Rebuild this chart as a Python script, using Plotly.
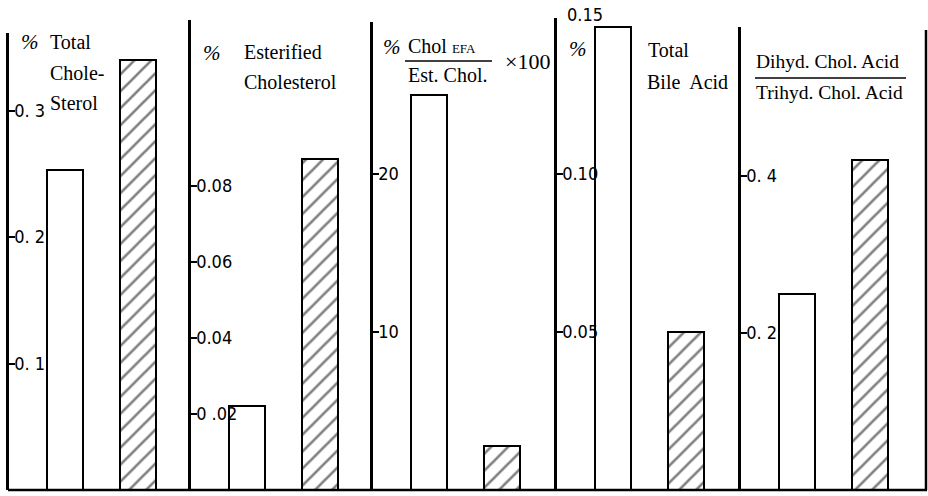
import plotly.graph_objects as go

# ---------------- data ----------------
groups = ["Control", "EFA-deficient"]
total_cholesterol = [0.253, 0.340]
esterified_cholesterol = [0.022, 0.087]
chol_efa_ratio = [25.0, 2.8]
total_bile_acid = [0.1465, 0.050]
dihyd_trihyd_ratio = [0.25, 0.42]

tick_vals_1 = [0.1, 0.2, 0.3]
tick_text_1 = ["0. 1", "0. 2", "0. 3"]
tick_vals_2 = [0.02, 0.04, 0.06, 0.08]
tick_text_2 = ["0 .02", "0.04", "0.06", "0.08"]
tick_vals_3 = [10, 20]
tick_text_3 = ["10", "20"]
tick_vals_4 = [0.05, 0.10]
tick_text_4 = ["0.05", "0.10"]
top_label_4 = "0.15"
tick_vals_5 = [0.2, 0.4]
tick_text_5 = ["0. 2", "0. 4"]

panels = [
    (total_cholesterol, tick_vals_1, tick_text_1, 0.3613),
    (esterified_cholesterol, tick_vals_2, tick_text_2, 0.1237),
    (chol_efa_ratio, tick_vals_3, tick_text_3, 29.62),
    (total_bile_acid, tick_vals_4, tick_text_4, 0.1494),
    (dihyd_trihyd_ratio, tick_vals_5, tick_text_5, 0.590),
]

# ---------------- layout geometry ----------------
W, H = 928, 496
PLOT_H = 490  # plot area height (bottom margin 6)
axis_x = [9, 191, 373, 557, 741]
axis_top = [33, 20, 22, 18, 27]
panel_w = 182

SERIF = "Liberation Serif, Times New Roman, serif"
TICKFAMILY = "Liberation Sans Narrow, DejaVu Sans Condensed, Liberation Sans, sans-serif"
TICKFONT = dict(family=TICKFAMILY, size=18, color="black")


def px(x):
    return x / W


def py(y):
    return (PLOT_H - y) / PLOT_H


fig = go.Figure()
layout = {}
for i, (vals, tv, tt, ymax) in enumerate(panels):
    n = "" if i == 0 else str(i + 1)
    xa, ya = "x" + n, "y" + n
    fig.add_trace(go.Bar(
        x=groups, y=vals, xaxis=xa, yaxis=ya, width=0.5,
        marker=dict(
            color="white",
            line=dict(color="black", width=2),
            pattern=dict(shape=["", "/"], fgcolor="black", bgcolor="white",
                         size=12, solidity=0.22),
        ),
        showlegend=False, hoverinfo="skip",
    ))
    layout["xaxis" + n] = dict(
        domain=[px(axis_x[i]), px(axis_x[i] + panel_w)],
        range=[-0.77, 1.73], anchor=ya, type="category",
        showticklabels=False, ticks="", showgrid=False, zeroline=False,
        showline=False, fixedrange=True,
    )
    layout["yaxis" + n] = dict(
        domain=[0, py(axis_top[i])], range=[0, ymax], anchor=xa,
        showline=True, linecolor="black", linewidth=2.5,
        ticks="inside", ticklen=6, tickwidth=2, tickcolor="black",
        tickvals=tv, ticktext=tt, ticklabelposition="inside",
        tickfont=TICKFONT, showgrid=False, zeroline=False, fixedrange=True,
    )

shapes = [
    # common baseline
    dict(type="line", xref="paper", yref="paper", x0=px(8), x1=px(927), y0=0, y1=0,
         line=dict(color="black", width=2.5)),
    # right frame edge
    dict(type="line", xref="paper", yref="paper", x0=px(926), x1=px(926), y0=0, y1=py(30),
         line=dict(color="black", width=2.5)),
    # fraction bars
    dict(type="line", xref="paper", yref="paper", x0=px(405), x1=px(492), y0=py(61), y1=py(61),
         line=dict(color="black", width=1.5)),
    dict(type="line", xref="paper", yref="paper", x0=px(755), x1=px(906), y0=py(78), y1=py(78),
         line=dict(color="black", width=1.5)),
]


def label(text, x, y, size=20, anchor="left", italic=False, family=SERIF):
    return dict(text=text, x=px(x), y=py(y), xref="paper", yref="paper",
                xanchor=anchor, yanchor="middle", showarrow=False,
                font=dict(family=family, size=size, color="black",
                          style="italic" if italic else "normal"))


annotations = [
    label("%", 19, 42, 21, italic=True),
    label("Total", 48, 42),
    label("Chole-", 48, 73),
    label("Sterol", 48, 103),

    label("%", 201, 53, 21, italic=True),
    label("Esterified", 242, 52),
    label("Cholesterol", 242, 82),

    label("%", 381, 47, 21, italic=True),
    label("Chol <span style='font-size:13px'>EFA</span>", 406, 46),
    label("Est. Chol.", 406, 75),
    label("×100", 503, 62, 22),

    label(top_label_4, 565, 14, 18, family=TICKFAMILY),
    label("%", 567, 49, 21, italic=True),
    label("Total", 646, 50),
    label("Bile  Acid", 645, 82),

    label("Dihyd. Chol. Acid", 754, 62, 19.5),
    label("Trihyd. Chol. Acid", 754, 92, 19.5),
]

fig.update_layout(
    **layout,
    width=W, height=H,
    margin=dict(l=0, r=0, t=0, b=H - PLOT_H),
    paper_bgcolor="white", plot_bgcolor="white",
    shapes=shapes, annotations=annotations,
    bargap=0, showlegend=False,
)

fig.write_html("out.html")
